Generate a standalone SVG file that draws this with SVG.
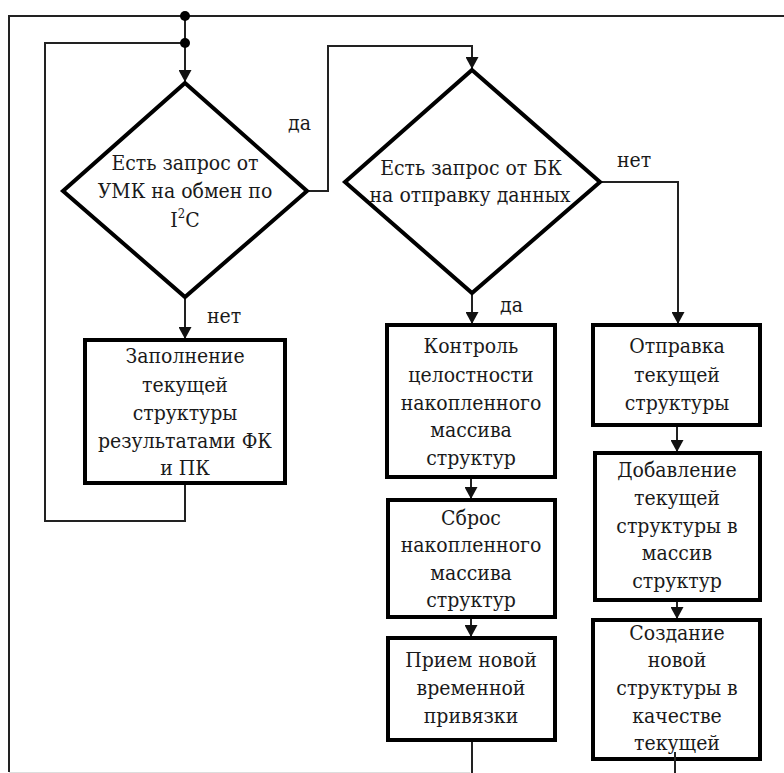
<svg xmlns="http://www.w3.org/2000/svg" width="784" height="773" viewBox="0 0 784 773">
<style>
.node{fill:#fff;stroke:#000;stroke-width:4;stroke-linejoin:miter}
.t{font-family:"DejaVu Serif Condensed","DejaVu Serif",serif;font-stretch:condensed;font-size:21px;fill:#1a1a1a;text-anchor:middle}
.lbl{font-family:"DejaVu Serif Condensed","DejaVu Serif",serif;font-stretch:condensed;font-size:21px;fill:#1a1a1a}
.c{fill:none;stroke:#222;stroke-width:2}
</style>
<defs>
<marker id="arr" markerWidth="12" markerHeight="13" refX="12" refY="6.5" orient="auto" markerUnits="userSpaceOnUse">
<path d="M0,0 L12,6.5 L0,13 Z" fill="#111"/>
</marker>
</defs>
<rect width="784" height="773" fill="#fff"/>
<g id="connectors">
<path class="c" d="M784,16 H9 V772"/>
<line x1="9" y1="772.5" x2="470" y2="772.5" stroke="#ddd" stroke-width="1"/>
<path class="c" d="M185,16 V82" marker-end="url(#arr)"/>
<path class="c" d="M185,43 H45 V521 H185 V483"/>
<circle cx="185" cy="16" r="5" fill="#000"/>
<circle cx="185" cy="43" r="5" fill="#000"/>
<path class="c" d="M307,191 H328 V46 H472 V69" marker-end="url(#arr)"/>
<path class="c" d="M185,297 V339" marker-end="url(#arr)"/>
<path class="c" d="M472,293 V324" marker-end="url(#arr)"/>
<path class="c" d="M600,182 H678 V324" marker-end="url(#arr)"/>
<path class="c" d="M471,477 V499" marker-end="url(#arr)"/>
<path class="c" d="M471,617 V637" marker-end="url(#arr)"/>
<path class="c" d="M472,740 V773"/>
<path class="c" d="M677,425 V452" marker-end="url(#arr)"/>
<path class="c" d="M677,600 V619" marker-end="url(#arr)"/>
</g>
<g id="decision1">
<polygon class="node" points="185,83 307,191 185,297 63,191"/>
<text class="t" x="185" y="170">Есть запрос от</text>
<text class="t" x="185" y="198">УМК на обмен по</text>
<text class="t" x="185" y="227">I<tspan font-size="13" dy="-9">2</tspan><tspan dy="9">C</tspan></text>
</g>
<g id="decision2">
<polygon class="node" points="472,70 600,182 472,293 345,182"/>
<text class="t" x="471" y="175">Есть запрос от БК</text>
<text class="t" x="470" y="202">на отправку данных</text>
</g>
<g id="labels">
<text class="lbl" x="288" y="130">да</text>
<text class="lbl" x="617" y="167">нет</text>
<text class="lbl" x="500" y="312">да</text>
<text class="lbl" x="207" y="323">нет</text>
</g>
<g id="box-fill">
<rect class="node" x="85" y="340" width="200" height="143"/>
<text class="t" x="185" y="363">Заполнение</text>
<text class="t" x="185" y="392">текущей</text>
<text class="t" x="185" y="420">структуры</text>
<text class="t" x="185" y="448">результатами ФК</text>
<text class="t" x="185" y="475">и ПК</text>
</g>
<g id="box-control">
<rect class="node" x="387" y="325" width="168" height="152"/>
<text class="t" x="471" y="353">Контроль</text>
<text class="t" x="471" y="382">целостности</text>
<text class="t" x="471" y="410">накопленного</text>
<text class="t" x="471" y="437">массива</text>
<text class="t" x="471" y="465">структур</text>
</g>
<g id="box-reset">
<rect class="node" x="388" y="500" width="167" height="117"/>
<text class="t" x="471" y="525">Сброс</text>
<text class="t" x="471" y="552">накопленного</text>
<text class="t" x="471" y="580">массива</text>
<text class="t" x="471" y="607">структур</text>
</g>
<g id="box-receive">
<rect class="node" x="388" y="638" width="167" height="102"/>
<text class="t" x="471" y="667">Прием новой</text>
<text class="t" x="471" y="695">временной</text>
<text class="t" x="471" y="723">привязки</text>
</g>
<g id="box-send">
<rect class="node" x="593" y="325" width="167" height="100"/>
<text class="t" x="677" y="353">Отправка</text>
<text class="t" x="677" y="382">текущей</text>
<text class="t" x="677" y="410">структуры</text>
</g>
<g id="box-add">
<rect class="node" x="595" y="453" width="165" height="147"/>
<text class="t" x="677" y="477">Добавление</text>
<text class="t" x="677" y="505">текущей</text>
<text class="t" x="677" y="533">структуры в</text>
<text class="t" x="677" y="560">массив</text>
<text class="t" x="677" y="588">структур</text>
</g>
<g id="box-create">
<rect class="node" x="593" y="620" width="167" height="139"/>
<text class="t" x="677" y="640">Создание</text>
<text class="t" x="677" y="667">новой</text>
<text class="t" x="677" y="695">структуры в</text>
<text class="t" x="677" y="723">качестве</text>
<text class="t" x="677" y="750">текущей</text>
</g>
<path class="c" d="M675,752 V773"/>
</svg>
